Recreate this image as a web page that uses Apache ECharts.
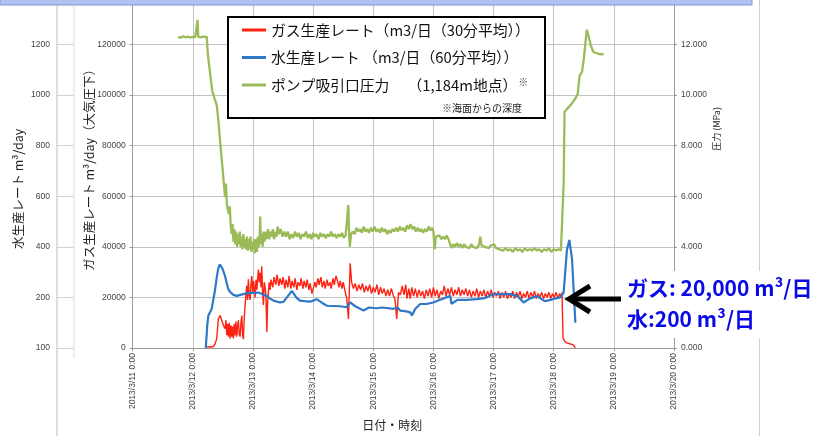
<!DOCTYPE html>
<html>
<head>
<meta charset="utf-8">
<script src="https://cdn.jsdelivr.net/npm/echarts@6/dist/echarts.min.js"></script>
<style>
html,body{margin:0;padding:0;background:#fff;}
#c{width:816px;height:436px;}
</style>
</head>
<body>
<div id="c"></div>
<script>
// ---- data (day of March 2013, value) ----
const dayTicks = [11, 12, 13, 14, 15, 16, 17, 18, 19, 20];
const gasTicks = [0, 20000, 40000, 60000, 80000, 100000, 120000];
const waterTicks = [100, 200, 400, 600, 800, 1000, 1200];
const pressureTicks = ['0.000', '2.000', '4.000', '6.000', '8.000', '10.000', '12.000'];

const gasName = 'ガス生産レート（m3/日（30分平均））';
const waterName = '水生産レート （m3/日（60分平均））';
const pumpName = 'ポンプ吸引口圧力　 （1,184m地点）';

const gasSeries = [
[12.231,500],[12.30,400],[12.341,600],[12.369,1500],[12.398,3800],[12.424,11570],[12.453,12860],[12.48,11000],
[12.508,8960],[12.536,7670],[12.55,11000],[12.564,5060],[12.578,9500],[12.591,4500],[12.605,10000],[12.619,3800],
[12.633,9000],[12.647,4500],[12.66,8500],[12.674,3800],[12.688,9500],[12.70,5000],[12.715,10500],[12.73,4500],
[12.745,9000],[12.757,11000],[12.77,5500],[12.785,4500],[12.80,10000],[12.814,12860],[12.827,5000],[12.84,3500],
[12.855,12000],[12.869,16750],[12.883,21000],[12.897,24550],[12.91,19000],[12.923,27150],[12.937,21000],[12.952,19000],
[12.966,25000],[12.98,28440],[12.995,22000],[13.01,26500],[13.035,20000],[13.05,27000],[13.065,23000],[13.09,31050],
[13.105,26000],[13.118,29700],[13.132,24000],[13.146,32330],[13.16,22000],[13.173,17000],[13.187,26000],[13.201,24000],
[13.215,21000],[13.23,6350],[13.243,18000],[13.256,22000],[13.27,26000],[13.285,23000],[13.30,27000],
[13.33,24000],[13.35,28000],[13.38,25000],[13.40,29000],[13.43,24500],[13.45,27500],[13.48,25000],[13.50,28000],
[13.53,23500],[13.55,27000],[13.58,24000],[13.60,28500],[13.63,23500],[13.65,26500],[13.68,24000],[13.70,27500],
[13.73,23000],[13.75,26000],[13.78,24500],[13.80,27500],[13.83,23500],[13.85,26500],[13.88,24000],[13.90,27000],
[13.93,23000],[13.95,25500],[13.98,21500],[14.005,22000],[14.03,26000],[14.05,24000],[14.08,27500],[14.10,25000],
[14.13,28000],[14.15,24000],[14.18,26500],[14.20,23500],[14.23,27000],[14.25,24500],[14.28,26000],[14.30,23500],
[14.33,27500],[14.35,25000],[14.38,28500],[14.40,27000],[14.43,24000],[14.45,26500],[14.48,23500],[14.50,26000],
[14.53,22500],[14.56,19500],[14.587,11500],[14.616,33500],[14.64,26000],[14.67,23500],[14.70,25500],[14.73,22500],
[14.76,25000],[14.79,23000],[14.82,25500],[14.85,22000],[14.88,24500],[14.91,22500],[14.94,25000],[14.97,21500],
[15.00,24000],[15.03,22000],[15.06,25000],[15.09,21000],[15.12,24000],[15.15,21500],[15.18,23500],[15.21,20500],
[15.24,23000],[15.27,20500],[15.30,23500],[15.336,20500],[15.36,19500],[15.39,11500],[15.42,22000],[15.45,21000],
[15.48,24500],[15.51,21000],[15.54,25000],[15.56,19500],[15.59,23500],[15.614,19500],[15.64,24000],[15.67,20500],
[15.70,23500],[15.73,20000],[15.76,23000],[15.79,20500],[15.82,22500],[15.85,19500],[15.88,23000],[15.91,20500],
[15.94,23500],[15.97,20000],[16.00,24000],[16.03,20500],[16.06,23000],[16.09,19500],[16.12,22500],[16.15,21000],
[16.18,24500],[16.21,20500],[16.24,23500],[16.27,21000],[16.30,24000],[16.33,20500],[16.36,23000],[16.39,21000],
[16.42,24000],[16.45,20500],[16.48,23000],[16.51,21000],[16.54,23500],[16.57,20500],[16.60,23000],[16.63,20000],
[16.66,22500],[16.69,20500],[16.72,23500],[16.75,20000],[16.78,22500],[16.81,20500],[16.84,23000],[16.87,20000],
[16.90,22500],[16.93,20500],[16.96,23000],[16.99,20000],[17.02,22000],[17.05,20500],[17.08,22500],[17.11,19500],
[17.14,22000],[17.17,20000],[17.20,22500],[17.23,19500],[17.26,21500],[17.29,20000],[17.32,22500],[17.35,19500],
[17.38,22000],[17.41,20000],[17.44,22500],[17.47,19500],[17.50,21500],[17.53,20000],[17.56,22500],[17.59,19500],
[17.62,22000],[17.65,20000],[17.68,22500],[17.71,19500],[17.74,21500],[17.77,20000],[17.80,22000],[17.83,19500],
[17.86,21500],[17.89,20000],[17.92,22000],[17.95,19500],[17.98,21500],[18.01,20000],[18.04,22000],[18.07,19500],
[18.10,21500],[18.12,20000],[18.138,21930],[18.155,3800],[18.18,2800],[18.20,2500],[18.22,2000],[18.247,1800],
[18.29,1500],[18.33,1170],[18.36,0]
];

const waterSeries = [
[12.215,0],[12.24,90],[12.258,129],[12.286,141],[12.30,145],[12.314,155],[12.34,190],[12.369,230],[12.398,280],
[12.424,315],[12.45,330],[12.464,336],[12.49,315],[12.536,284],[12.57,250],[12.591,232],[12.619,222],[12.674,210],
[12.73,206],[12.79,210],[12.84,213],[12.897,216],[12.952,219],[13.02,218],[13.09,219],[13.16,212],[13.23,206],
[13.285,195],[13.34,187],[13.45,180],[13.506,182],[13.58,205],[13.646,226],[13.672,219],[13.72,200],[13.78,187],
[13.86,185],[13.95,183],[14.06,193],[14.15,178],[14.23,167],[14.35,166],[14.45,165],[14.56,161],[14.616,180],
[14.70,165],[14.837,148],[14.93,160],[15.05,157],[15.15,160],[15.226,158],[15.336,155],[15.40,160],[15.448,148],
[15.55,145],[15.614,141],[15.642,129],[15.70,155],[15.78,174],[15.88,174],[16.00,180],[16.10,190],[16.28,206],
[16.30,175],[16.40,190],[16.55,190],[16.72,193],[16.85,197],[17.00,213],[17.15,213],[17.278,213],[17.40,205],
[17.50,180],[17.60,195],[17.72,205],[17.85,185],[17.95,190],[18.00,194],[18.11,200],[18.165,219],[18.22,388],
[18.26,427],[18.305,350],[18.36,100]
];

const pumpSeries = [
[11.754,12.30],[11.80,12.26],[11.84,12.32],[11.88,12.28],[11.92,12.31],[11.96,12.27],[12.00,12.30],[12.04,12.29],
[12.065,12.35],[12.078,12.97],[12.09,12.30],[12.13,12.28],[12.17,12.31],[12.20,12.27],[12.231,12.30],[12.25,11.6],
[12.27,11.2],[12.30,10.6],[12.32,10.2],[12.341,10.0],[12.37,9.8],[12.398,9.6],[12.428,8.9],[12.453,8.17],
[12.486,7.3],[12.511,6.62],[12.536,5.96],[12.55,6.5],[12.565,5.7],[12.58,5.5],[12.60,5.3],[12.615,5.6],
[12.627,4.92],[12.645,4.5],[12.66,4.9],[12.675,4.2],[12.69,4.7],[12.705,4.1],[12.72,4.6],[12.735,4.0],
[12.75,4.5],[12.765,4.1],[12.78,4.6],[12.795,4.0],[12.81,4.4],[12.825,3.9],[12.84,4.5],[12.855,4.0],
[12.87,4.3],[12.885,3.9],[12.90,4.4],[12.915,3.85],[12.93,4.3],[12.945,3.9],[12.96,4.4],[12.975,3.8],
[12.99,4.2],[13.005,3.9],[13.02,4.3],[13.035,3.75],[13.05,4.3],[13.065,3.8],[13.08,4.4],[13.095,4.0],
[13.11,4.3],[13.12,5.2],[13.13,4.1],[13.145,4.5],[13.16,4.0],[13.175,4.6],[13.19,4.2],[13.21,4.6],
[13.23,4.3],[13.25,4.7],[13.27,4.3],[13.29,4.6],[13.31,4.4],[13.33,4.7],[13.35,4.3],[13.37,4.6],
[13.39,4.4],[13.41,4.8],[13.43,4.5],[13.46,4.7],[13.49,4.4],[13.52,4.6],[13.55,4.4],[13.58,4.6],
[13.61,4.3],[13.64,4.5],[13.67,4.35],[13.70,4.6],[13.73,4.4],[13.76,4.55],[13.79,4.3],[13.82,4.5],
[13.85,4.4],[13.88,4.6],[13.91,4.35],[13.94,4.5],[13.97,4.3],[14.00,4.55],[14.03,4.4],[14.06,4.5],
[14.09,4.3],[14.12,4.55],[14.15,4.4],[14.18,4.5],[14.21,4.35],[14.24,4.5],[14.27,4.4],[14.30,4.6],
[14.33,4.4],[14.36,4.5],[14.39,4.35],[14.42,4.5],[14.45,4.4],[14.48,4.55],[14.51,4.35],[14.54,4.45],
[14.57,4.4],[14.585,5.65],[14.60,4.4],[14.61,4.0],[14.63,4.5],[14.66,4.6],[14.69,4.5],[14.72,4.75],
[14.75,4.6],[14.78,4.7],[14.81,4.55],[14.84,4.8],[14.87,4.6],[14.90,4.7],[14.93,4.55],[14.96,4.75],
[14.99,4.6],[15.02,4.8],[15.05,4.6],[15.08,4.7],[15.11,4.55],[15.14,4.75],[15.17,4.6],[15.20,4.7],
[15.23,4.5],[15.26,4.65],[15.29,4.55],[15.32,4.7],[15.35,4.6],[15.38,4.75],[15.41,4.6],[15.44,4.8],
[15.47,4.65],[15.50,4.75],[15.53,4.6],[15.56,4.85],[15.59,4.7],[15.62,4.9],[15.65,4.7],[15.68,4.8],
[15.71,4.6],[15.74,4.75],[15.77,4.6],[15.80,4.7],[15.83,4.55],[15.86,4.7],[15.89,4.6],[15.92,4.8],
[15.95,4.65],[15.98,4.75],[16.00,4.6],[16.02,3.9],[16.04,4.4],[16.07,4.35],[16.10,4.45],[16.13,4.3],
[16.16,4.4],[16.19,4.3],[16.22,4.45],[16.25,4.3],[16.28,4.35],[16.30,3.95],[16.33,4.1],[16.36,4.0],
[16.39,4.15],[16.42,4.0],[16.45,4.1],[16.48,3.95],[16.51,4.1],[16.54,4.0],[16.57,4.05],[16.60,3.95],
[16.63,4.1],[16.66,4.0],[16.69,4.05],[16.72,3.95],[16.76,4.1],[16.78,4.4],[16.80,4.05],[16.83,4.1],
[16.86,4.0],[16.89,4.05],[16.92,3.95],[16.95,4.05],[16.98,4.0],[17.01,4.1],[17.04,3.95],[17.07,4.0],
[17.10,3.9],[17.13,3.95],[17.16,3.85],[17.20,3.95],[17.24,3.85],[17.28,3.9],[17.32,3.8],[17.36,3.95],
[17.40,3.85],[17.44,3.9],[17.48,3.8],[17.52,3.95],[17.56,3.85],[17.60,3.9],[17.64,3.85],[17.68,3.95],
[17.72,3.85],[17.76,3.9],[17.80,3.8],[17.84,3.9],[17.88,3.85],[17.92,3.95],[17.96,3.8],[18.00,3.9],
[18.04,3.85],[18.08,3.9],[18.12,3.85],[18.15,3.9],[18.165,6.5],[18.18,9.34],[18.20,9.4],[18.28,9.6],
[18.36,9.86],[18.40,10.05],[18.43,10.76],[18.47,10.9],[18.50,11.41],[18.55,12.58],[18.58,12.32],[18.62,11.93],
[18.66,11.7],[18.69,11.67],[18.75,11.62],[18.83,11.61]
];

// ---- chart ----
const chart = echarts.init(document.getElementById('c'));
const tickFont = { fontFamily: 'Liberation Sans', fontSize: 8.5, color: '#444' };
const jp = 'Noto Sans CJK JP';
const gridColor = '#c4c4c4';

chart.setOption({
  animation: false,
  backgroundColor: '#fff',
  grid: { left: 132.7, right: 142, top: 3.9, bottom: 83, containLabel: false },
  legend: {
    orient: 'vertical', left: 237, top: 17, itemGap: 11.5, z: 60,
    itemWidth: 24, itemHeight: 3, icon: 'rect',
    data: [gasName, waterName, pumpName],
    formatter: function (n) { return n === pumpName ? n + '{s|※}' : n; },
    textStyle: { fontFamily: jp, fontSize: 14.8, color: '#111', lineHeight: 16,
      rich: { s: { fontFamily: jp, fontSize: 10, color: '#333', verticalAlign: 'top', padding: [0, 0, 8, 1] } } }
  },
  xAxis: {
    type: 'value', min: dayTicks[0], max: dayTicks[dayTicks.length - 1], interval: 1,
    name: '日付・時刻', nameLocation: 'middle', nameGap: 71, nameMoveOverlap: false,
    nameTextStyle: { fontFamily: jp, fontSize: 12, color: '#222', padding: [0, 22, 0, 0] },
    axisLine: { lineStyle: { color: '#999' } },
    axisTick: { show: true, length: 3, lineStyle: { color: '#999' } },
    splitLine: { show: true, lineStyle: { color: gridColor, width: 1 } },
    axisLabel: Object.assign({ rotate: 90, margin: 5,
      formatter: function (v) { return dayTicks.indexOf(v) >= 0 ? '2013/3/' + v + ' 0:00' : ''; } }, tickFont)
  },
  yAxis: [
    { // gas
      type: 'value', position: 'left', min: 0, max: 136000, interval: 20000,
      name: 'ガス生産レート m³/day（大気圧下）', nameLocation: 'middle', nameRotate: 90, nameGap: 37, nameMoveOverlap: false,
      nameTextStyle: { fontFamily: jp, fontSize: 12.5, color: '#222', padding: [0, 0, 0, 18] },
      axisLine: { show: true, lineStyle: { color: '#999' } },
      axisTick: { show: true, length: 3, lineStyle: { color: '#999' } },
      splitLine: { show: true, lineStyle: { color: gridColor, width: 1 } },
      axisLabel: Object.assign({ showMaxLabel: false, margin: 7,
        formatter: function (v) { return gasTicks.indexOf(v) >= 0 ? String(v) : ''; } }, tickFont)
    },
    { // water
      type: 'value', position: 'left', offset: 75.7, min: 0, max: 1360, interval: 200,
      name: '水生産レート m³/day', nameLocation: 'middle', nameRotate: 90, nameGap: 32, nameMoveOverlap: false,
      nameTextStyle: { fontFamily: jp, fontSize: 12.5, color: '#222', padding: [0, 26, 0, 0] },
      axisLine: { show: false },
      axisTick: { show: true, inside: true, length: 17, lineStyle: { color: '#d0d0d0' } },
      splitLine: { show: false },
      axisLabel: Object.assign({ showMaxLabel: false, margin: 7,
        formatter: function (v) { return v === 0 ? String(waterTicks[0]) : (waterTicks.indexOf(v) >= 0 ? String(v) : ''); } }, tickFont)
    },
    { // pressure
      type: 'value', position: 'right', min: 0, max: 13.6, interval: 2,
      name: '圧力 (MPa)', nameLocation: 'middle', nameRotate: 90, nameGap: 38, nameMoveOverlap: false,
      nameTextStyle: { fontFamily: jp, fontSize: 9, color: '#222', padding: [0, 0, 0, 94] },
      axisLine: { show: true, lineStyle: { color: '#999' } },
      axisTick: { show: true, length: 3, lineStyle: { color: '#999' } },
      splitLine: { show: false },
      axisLabel: Object.assign({ showMaxLabel: false, margin: 7,
        formatter: function (v) { const s = v.toFixed(3); return pressureTicks.indexOf(s) >= 0 ? s : ''; } }, tickFont)
    }
  ],
  series: [
    { name: pumpName, type: 'line', yAxisIndex: 2, data: pumpSeries, showSymbol: false, symbol: 'none',
      lineStyle: { color: '#9bbb59', width: 2.3 }, itemStyle: { color: '#9bbb59' } },
    { name: gasName, type: 'line', yAxisIndex: 0, data: gasSeries, showSymbol: false, symbol: 'none',
      lineStyle: { color: '#ff2212', width: 1.4 }, itemStyle: { color: '#ff2212' } },
    { name: waterName, type: 'line', yAxisIndex: 1, data: waterSeries, showSymbol: false, symbol: 'none',
      lineStyle: { color: '#2f78c8', width: 2.2 }, itemStyle: { color: '#2f78c8' } }
  ],
  graphic: [
    { type: 'rect', z: 50, shape: { x: 0, y: -2, width: 752, height: 7 },
      style: { fill: '#b0c2f0', stroke: '#7d97d6', lineWidth: 1 } },
    { type: 'line', z: 50, shape: { x1: 759.5, y1: 0, x2: 759.5, y2: 436 }, style: { stroke: '#d0d0d0', lineWidth: 1 } },
    { type: 'line', z: 50, shape: { x1: 57, y1: 5, x2: 57, y2: 436 }, style: { stroke: '#bdbdbd', lineWidth: 1 } },
    { type: 'line', z: 50, shape: { x1: 74, y1: 5, x2: 74, y2: 358 }, style: { stroke: '#dadada', lineWidth: 1 } },
    { type: 'rect', z: 50, shape: { x: 228, y: 17, width: 317, height: 101 },
      style: { fill: '#fff', stroke: '#000', lineWidth: 2 } },
    { type: 'text', z: 55, x: 522, y: 108,
      style: { text: '※海面からの深度', fontFamily: jp, fontSize: 10, fill: '#222', align: 'right', verticalAlign: 'middle' } },
    { type: 'rect', z: 50, shape: { x: 620, y: 271, width: 196, height: 67 }, style: { fill: '#fff' } },
    { type: 'line', z: 55, shape: { x1: 571, y1: 299, x2: 621, y2: 299 }, style: { stroke: '#000', lineWidth: 5 } },
    { type: 'polyline', z: 55, shape: { points: [[590, 286], [569, 299], [590, 312]] },
      style: { stroke: '#000', lineWidth: 5, fill: null, lineJoin: 'miter' } },
    { type: 'text', z: 56, x: 627, y: 288,
      style: { text: 'ガス: 20,000 m³/日', fontFamily: jp, fontWeight: 'bold', fontSize: 21, fill: '#0a0ae6', align: 'left', verticalAlign: 'middle' } },
    { type: 'text', z: 56, x: 627, y: 319,
      style: { text: '水:200 m³/日', fontFamily: jp, fontWeight: 'bold', fontSize: 21, fill: '#0a0ae6', align: 'left', verticalAlign: 'middle' } }
  ]
});
</script>
</body>
</html>
